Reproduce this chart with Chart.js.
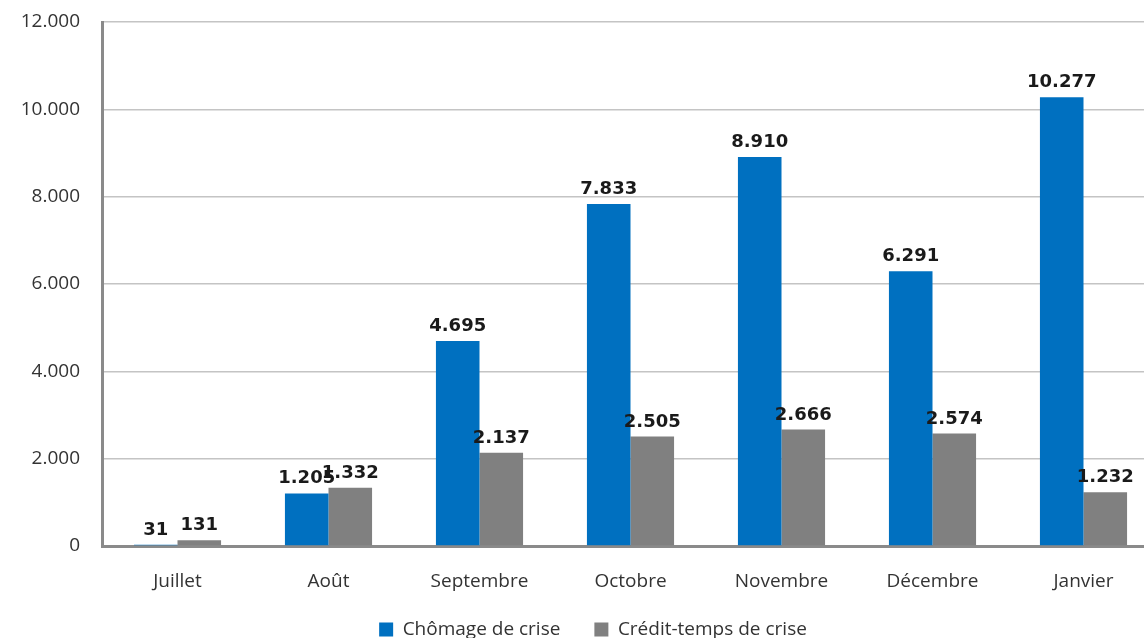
<!DOCTYPE html>
<html>
<head>
<meta charset="utf-8">
<script src="https://cdn.jsdelivr.net/npm/chart.js@4/dist/chart.umd.min.js"></script>
<style>
  html, body { margin: 0; padding: 0; background: #fff; overflow: hidden; width: 1144px; height: 638px; }
  #wrap { position: absolute; left: 0; top: 0; width: 1186px; height: 638px; }
</style>
</head>
<body>
<div id="wrap"><canvas id="c" width="1186" height="638"></canvas></div>
<script>
const categories = ["Juillet", "Août", "Septembre", "Octobre", "Novembre", "Décembre", "Janvier"];
const seriesNames = ["Chômage de crise", "Crédit-temps de crise"];
const chomage = [31, 1205, 4695, 7833, 8910, 6291, 10277];
const creditTemps = [131, 1332, 2137, 2505, 2666, 2574, 1232];
const yTicks = [0, 2000, 4000, 6000, 8000, 10000, 12000];

const fmt = v => v.toLocaleString('de-DE');

const valueLabels = {
  id: 'valueLabels',
  afterDatasetsDraw(chart) {
    const ctx = chart.ctx;
    ctx.save();
    ctx.font = 'bold 18px "DejaVu Sans"';
    ctx.fillStyle = '#1a1a1a';
    ctx.textAlign = 'center';
    ctx.textBaseline = 'alphabetic';
    chart.data.datasets.forEach((ds, i) => {
      const meta = chart.getDatasetMeta(i);
      meta.data.forEach((bar, j) => {
        ctx.fillText(fmt(ds.data[j]), bar.x, bar.y - 10);
      });
    });
    ctx.restore();
  }
};

// nudge the legend block to where it sits in the reference
const legendShift = {
  id: 'legendShift',
  afterLayout(chart) {
    const lg = chart.legend;
    if (!lg) return;
    lg.left += 13.5; lg.right += 13.5;
    lg.top -= 20; lg.bottom -= 20;
  }
};

new Chart(document.getElementById('c'), {
  type: 'bar',
  data: {
    labels: categories,
    datasets: [
      { label: seriesNames[0], data: chomage, backgroundColor: '#0070C0' },
      { label: seriesNames[1], data: creditTemps, backgroundColor: '#808080' }
    ]
  },
  options: {
    responsive: false,
    animation: false,
    devicePixelRatio: 1,
    layout: { padding: { top: 22, right: 27, left: 0, bottom: -31 } },
    datasets: { bar: { barPercentage: 1, categoryPercentage: 0.577 } },
    plugins: {
      legend: {
        position: 'bottom',
        labels: {
          font: { family: '"Open Sans"', size: 19 },
          color: '#333',
          boxWidth: 14,
          boxHeight: 14,
          padding: 34
        }
      },
      tooltip: { enabled: false }
    },
    scales: {
      x: {
        grid: { display: false },
        border: { color: '#8a8a8a', width: 3 },
        ticks: { font: { family: '"Open Sans"', size: 19 }, color: '#333', padding: 16 },
        afterFit(s) { s.height = 60; }
      },
      y: {
        min: 0, max: 12000,
        afterBuildTicks(s) { s.ticks = yTicks.map(v => ({ value: v })); },
        grid: { color: '#c4c4c4', lineWidth: 1.5, drawTicks: false },
        border: { color: '#8a8a8a', width: 3 },
        ticks: { font: { family: '"Open Sans"', size: 19 }, color: '#333', padding: 22, callback: v => fmt(v) },
        afterFit(s) { s.width = 102; s.paddingTop = 0; s.paddingBottom = 0; }
      }
    }
  },
  plugins: [valueLabels, legendShift]
});
</script>
</body>
</html>
